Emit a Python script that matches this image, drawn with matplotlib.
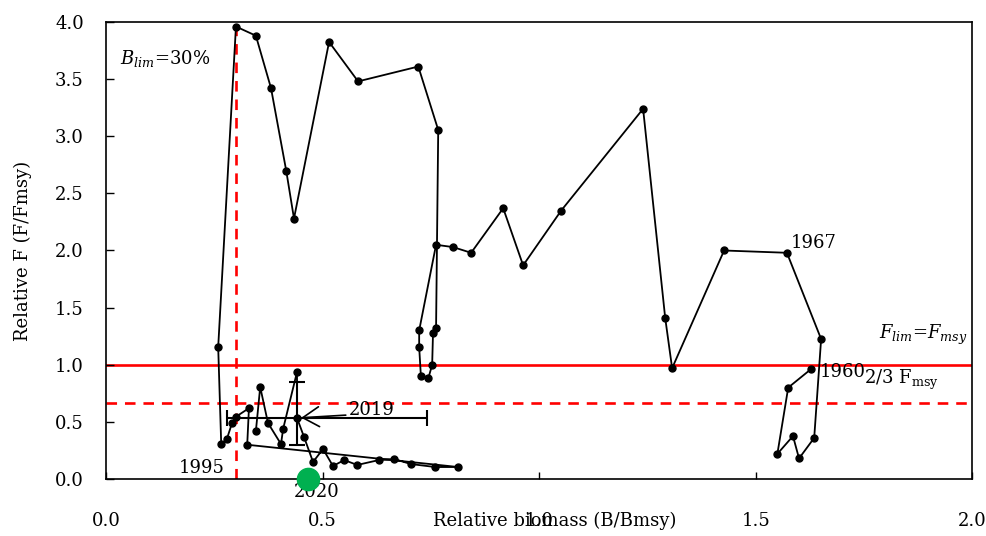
import matplotlib
matplotlib.use("Agg")
import matplotlib.pyplot as plt

plt.rcParams['font.family'] = ['DejaVu Serif']
plt.rcParams['mathtext.fontset'] = 'dejavuserif'

# trajectory 1960 -> ..., relative biomass and relative F
bio = [1.628, 1.575, 1.550, 1.586, 1.600, 1.635, 1.651,
       1.572, 1.427, 1.307, 1.291, 1.240, 1.051, 0.963, 0.917, 0.843, 0.801, 0.762,
       0.723, 0.723, 0.727, 0.744, 0.753, 0.755, 0.762,
       0.767, 0.721, 0.582, 0.515, 0.434, 0.416, 0.381, 0.346, 0.300, 0.259,
       0.266, 0.279, 0.291, 0.300, 0.330, 0.326,
       0.813, 0.760, 0.704, 0.665, 0.630, 0.580, 0.550, 0.524, 0.501, 0.478, 0.457,
       0.441, 0.441, 0.409, 0.404, 0.374, 0.356, 0.346]
fmort = [0.963, 0.80, 0.22, 0.376, 0.18, 0.36, 1.225,
         1.98, 2.00, 0.97, 1.41, 3.24, 2.35, 1.87, 2.37, 1.98, 2.03, 2.05,
         1.30, 1.155, 0.90, 0.88, 1.00, 1.28, 1.32,
         3.055, 3.61, 3.48, 3.825, 2.28, 2.70, 3.42, 3.88, 3.96, 1.155,
         0.306, 0.35, 0.49, 0.545, 0.62, 0.30,
         0.105, 0.105, 0.131, 0.175, 0.166, 0.123, 0.166, 0.114, 0.263, 0.149, 0.37,
         0.534, 0.937, 0.44, 0.306, 0.49, 0.805, 0.42]

# 2019 estimate with uncertainty
b2019 = 0.441
f2019 = 0.534
b2019_lo, b2019_hi = 0.279, 0.741
f2019_lo, f2019_hi = 0.298, 0.849

# 2020 projection
b2020 = 0.467
f2020 = 0.0

blim = 0.3
flim = 1.0
f23 = 2 / 3

fig = plt.figure(figsize=(9.87, 5.36), dpi=100)
ax = fig.add_axes([0.1074, 0.1063, 0.8777, 0.8527])

ax.axhline(flim, color='#ff0000', lw=1.9, zorder=1)
ax.axhline(f23, color='#ff0000', lw=1.9, ls=(0, (4, 3)), zorder=1)
ax.axvline(blim, color='#ff0000', lw=1.9, ls=(0, (4, 3)), zorder=1)

ax.plot(bio, fmort, color='black', lw=1.3, marker='o', ms=5, zorder=3)

ax.errorbar([b2019], [f2019],
            xerr=[[b2019 - b2019_lo], [b2019_hi - b2019]],
            yerr=[[f2019 - f2019_lo], [f2019_hi - f2019]],
            fmt='none', ecolor='black', elinewidth=1.5, capsize=5.5, capthick=1.5, zorder=3)

ax.plot([b2020], [f2020], 'o', color='#00b050', ms=16, clip_on=False, zorder=5)

ax.text(0.032, 3.68, r'$B_{lim}$=30%', fontsize=13, va='center', ha='left')
ax.text(1.785, 1.26, r'$F_{lim}$=$F_{msy}$', fontsize=13, va='center', ha='left')
ax.text(1.75, 0.87, r'2/3 F$_{\rm msy}$', fontsize=13, va='center', ha='left')
ax.text(1.647, 0.94, '1960', fontsize=13, va='center', ha='left')
ax.text(1.580, 2.07, '1967', fontsize=13, va='center', ha='left')
ax.text(0.275, 0.10, '1995', fontsize=13, va='center', ha='right')
ax.text(0.487, -0.11, '2020', fontsize=13, va='center', ha='center', clip_on=False)
ax.annotate('2019', xy=(b2019, f2019), xytext=(0.560, 0.60), fontsize=13,
            va='center', ha='left',
            arrowprops=dict(arrowstyle='->,head_length=0.9,head_width=0.55',
                            color='black', lw=1.2, relpos=(0, 0.25),
                            shrinkA=0, shrinkB=3))

ax.set_xlim(0, 2)
ax.set_ylim(0, 4)
ax.set_xticks([0.0, 0.5, 1.0, 1.5, 2.0])
ax.set_yticks([0.0, 0.5, 1.0, 1.5, 2.0, 2.5, 3.0, 3.5, 4.0])
ax.xaxis.set_major_formatter(matplotlib.ticker.FormatStrFormatter('%.1f'))
ax.yaxis.set_major_formatter(matplotlib.ticker.FormatStrFormatter('%.1f'))
ax.tick_params(axis='x', direction='in', length=5, width=1, pad=24, labelsize=13)
ax.tick_params(axis='y', direction='in', length=6, width=1, pad=16, labelsize=13)
for s in ax.spines.values():
    s.set_linewidth(1.2)

ax.set_xlabel('Relative biomass (B/Bmsy)', fontsize=13)
ax.xaxis.set_label_coords(0.518, -0.072)
ax.set_ylabel('Relative F (F/Fmsy)', fontsize=13)
ax.yaxis.set_label_coords(-0.085, 0.5)

fig.savefig('out.png', dpi=100)
